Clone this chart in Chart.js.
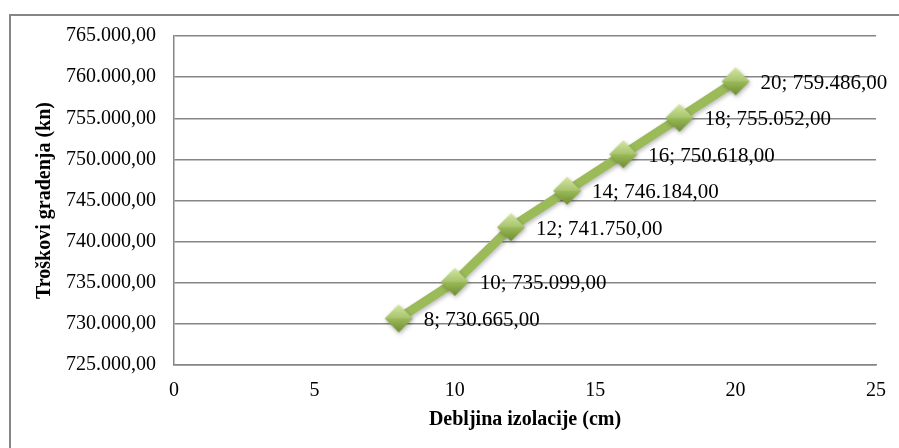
<!DOCTYPE html>
<html>
<head>
<meta charset="utf-8">
<script src="https://cdn.jsdelivr.net/npm/chart.js@4.4.1/dist/chart.umd.min.js"></script>
<style>
  html, body { margin: 0; padding: 0; background: #ffffff; }
  #wrap { width: 899px; height: 448px; }
</style>
</head>
<body>
<div id="wrap"><canvas id="chart" width="899" height="448"></canvas></div>
<script>
// Insulation thickness (cm) vs. construction cost (kn)
const thickness = [8, 10, 12, 14, 16, 18, 20];
const cost = [730665, 735099, 741750, 746184, 750618, 755052, 759486];
const yTicks = [725000, 730000, 735000, 740000, 745000, 750000, 755000, 760000, 765000];
const xTicks = [0, 5, 10, 15, 20, 25];

const SERIF = '"Liberation Serif", "Times New Roman", serif';
const GRID = '#868686';
const GREEN = '#9bbb59';

// Croatian number format: 730.665,00
function fmt(v) {
  const parts = v.toFixed(2).split('.');
  const intPart = parts[0].replace(/\B(?=(\d{3})+(?!\d))/g, '.');
  return intPart + ',' + parts[1];
}

// Bevelled green diamond marker
function makeDiamond(r) {
  const c = document.createElement('canvas');
  const s = r * 2 + 2;
  c.width = s; c.height = s;
  const g = c.getContext('2d');
  const cx = s / 2, cy = s / 2;
  const grad = g.createLinearGradient(0, cy - r, 0, cy + r);
  grad.addColorStop(0, '#cfe595');
  grad.addColorStop(0.5, '#9bbb59');
  grad.addColorStop(1, '#6f8c33');
  g.beginPath();
  g.moveTo(cx, cy - r);
  g.lineTo(cx + r, cy);
  g.lineTo(cx, cy + r);
  g.lineTo(cx - r, cy);
  g.closePath();
  g.fillStyle = grad;
  g.fill();
  // lighter upper facets
  g.beginPath();
  g.moveTo(cx, cy - r);
  g.lineTo(cx + r, cy);
  g.lineTo(cx - r, cy);
  g.closePath();
  g.fillStyle = 'rgba(255,255,255,0.12)';
  g.fill();
  return c;
}
const diamond = makeDiamond(14);

const outerFrame = {
  id: 'outerFrame',
  beforeDraw(chart) {
    const ctx = chart.ctx;
    ctx.save();
    ctx.strokeStyle = GRID;
    ctx.lineWidth = 2;
    ctx.strokeRect(10, 15, 1000, 1000);
    ctx.restore();
  }
};

const softShadow = {
  id: 'softShadow',
  beforeDatasetsDraw(chart) {
    const ctx = chart.ctx;
    ctx.save();
    ctx.shadowColor = 'rgba(0,0,0,0.28)';
    ctx.shadowBlur = 4;
    ctx.shadowOffsetX = 1;
    ctx.shadowOffsetY = 2;
  },
  afterDatasetsDraw(chart) {
    chart.ctx.restore();
  }
};

const pointLabels = {
  id: 'pointLabels',
  afterDatasetsDraw(chart) {
    const ctx = chart.ctx;
    const meta = chart.getDatasetMeta(0);
    ctx.save();
    ctx.font = '21px ' + SERIF;
    ctx.fillStyle = '#000000';
    ctx.textAlign = 'left';
    ctx.textBaseline = 'middle';
    meta.data.forEach((pt, i) => {
      ctx.fillText(thickness[i] + '; ' + fmt(cost[i]), pt.x + 25, pt.y + 2);
    });
    ctx.restore();
  }
};

new Chart(document.getElementById('chart'), {
  type: 'scatter',
  data: {
    datasets: [{
      data: thickness.map((x, i) => ({ x: x, y: cost[i] })),
      showLine: true,
      borderColor: GREEN,
      borderWidth: 9,
      tension: 0,
      borderJoinStyle: 'round',
      pointStyle: diamond,
      pointRadius: 14,
      pointHoverRadius: 14
    }]
  },
  options: {
    responsive: false,
    animation: false,
    layout: { padding: { left: 0, right: 18, top: 36, bottom: 0 } },
    plugins: { legend: { display: false }, tooltip: { enabled: false } },
    scales: {
      x: {
        type: 'linear',
        min: 0, max: 25,
        afterBuildTicks(scale) { scale.ticks = xTicks.map(v => ({ value: v })); },
        afterFit(scale) { scale.height = 83; scale.paddingRight = 0; scale.paddingLeft = 0; },
        grid: { display: false, drawTicks: false },
        border: { display: true, color: GRID, width: 1.5 },
        ticks: { color: '#000', font: { family: SERIF, size: 20 }, padding: 14, maxRotation: 0 },
        title: {
          display: true,
          text: 'Debljina izolacije (cm)',
          color: '#000',
          font: { family: SERIF, size: 20, weight: 'bold' },
          padding: { top: 0, bottom: 16 }
        }
      },
      y: {
        type: 'linear',
        min: 725000, max: 765000,
        afterBuildTicks(scale) { scale.ticks = yTicks.map(v => ({ value: v })); },
        afterFit(scale) { scale.width = 174; },
        grid: { color: GRID, lineWidth: 1.5, drawTicks: false },
        border: { display: true, color: GRID, width: 1.5 },
        ticks: {
          color: '#000',
          font: { family: SERIF, size: 20 },
          padding: 18,
          callback: v => fmt(v)
        },
        title: {
          display: true,
          text: 'Troškovi gradenja (kn)',
          color: '#000',
          font: { family: SERIF, size: 20, weight: 'bold' },
          padding: { top: 33, bottom: 0 }
        }
      }
    }
  },
  plugins: [outerFrame, softShadow, pointLabels]
});
</script>
</body>
</html>
